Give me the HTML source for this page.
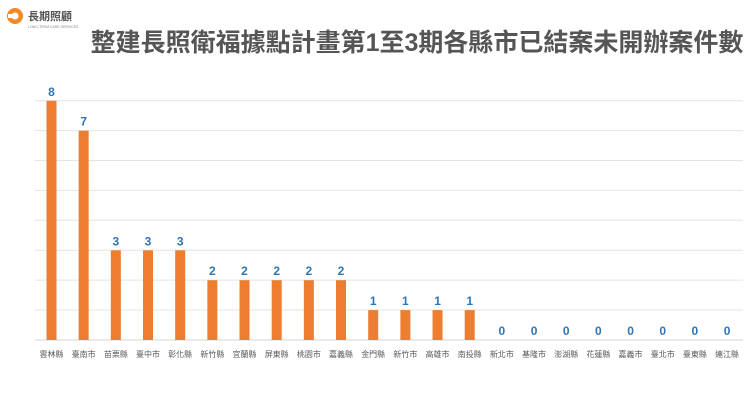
<!DOCTYPE html>
<html><head><meta charset="utf-8"><style>
body{margin:0;width:750px;height:403px;background:#fff;overflow:hidden;font-family:"Liberation Sans","Noto Sans CJK TC",sans-serif;}
</style></head><body>
<svg width="750" height="403" xmlns="http://www.w3.org/2000/svg" font-family="Liberation Sans, Noto Sans CJK TC, sans-serif">
<circle cx="15" cy="16" r="8" fill="#f08a24"/>
<circle cx="15" cy="16" r="3.5" fill="#fff"/>
<rect x="8" y="14" width="5" height="4" fill="#fff"/>
<text x="28" y="20" font-size="11" font-weight="bold" fill="#555">長期照顧</text>
<text x="28" y="28" font-size="3.5" fill="#888">LONG-TERM CARE SERVICES</text>
<text x="417" y="51" font-size="25" font-weight="bold" fill="#555" text-anchor="middle">整建長照衛福據點計畫第1至3期各縣市已結案未開辦案件數</text>
<g stroke="#e4e4e4" stroke-width="1">
<line x1="35" x2="743" y1="100.7" y2="100.7"/><line x1="35" x2="743" y1="130.6" y2="130.6"/>
<line x1="35" x2="743" y1="160.5" y2="160.5"/><line x1="35" x2="743" y1="190.4" y2="190.4"/>
<line x1="35" x2="743" y1="220.3" y2="220.3"/><line x1="35" x2="743" y1="250.2" y2="250.2"/>
<line x1="35" x2="743" y1="280.1" y2="280.1"/><line x1="35" x2="743" y1="310" y2="310"/>
<line x1="35" x2="743" y1="340" y2="340" stroke="#d6d6d6"/>
</g>
<g id="bars"></g>
</svg>
<script>
var names=["雲林縣","臺南市","苗栗縣","臺中市","彰化縣","新竹縣","宜蘭縣","屏東縣","桃園市","嘉義縣","金門縣","新竹市","高雄市","南投縣","新北市","基隆市","澎湖縣","花蓮縣","嘉義市","臺北市","臺東縣","連江縣"];
var v=[8,7,3,3,3,2,2,2,2,2,1,1,1,1,0,0,0,0,0,0,0,0];
var g=document.getElementById("bars"),s="";
for(var i=0;i<22;i++){var cx=51.5+i*32.17,h=v[i]*29.9,y=340-h;
if(h>0)s+='<rect x="'+(cx-5)+'" y="'+y+'" width="10" height="'+h+'" fill="#ed7d31"/>';
s+='<text x="'+cx+'" y="'+(y-5)+'" font-size="12" font-weight="bold" fill="#2e75b6" text-anchor="middle">'+v[i]+'</text>';
s+='<text x="'+cx+'" y="357" font-size="8" fill="#595959" text-anchor="middle">'+names[i]+'</text>';}
g.innerHTML=s;
</script>
</body></html>
